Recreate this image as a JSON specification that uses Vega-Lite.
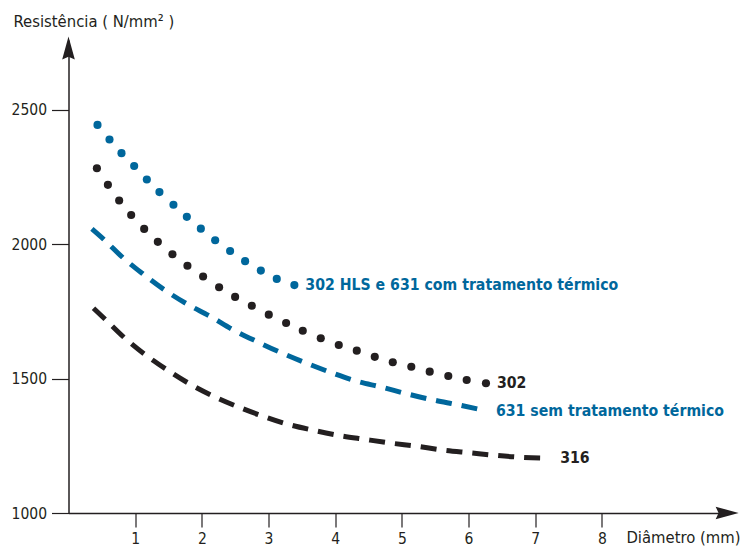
{
  "$schema": "https://vega.github.io/schema/vega-lite/v6.json",
  "width": 660,
  "height": 473,
  "autosize": {"type": "none"},
  "padding": {"left": 68.5, "top": 40, "right": 14.5, "bottom": 33},
  "config": {
    "view": {"stroke": null},
    "font": "DejaVu Sans Condensed",
    "axis": {
      "grid": false,
      "domainColor": "#231f20",
      "domainWidth": 1.5,
      "tickColor": "#231f20",
      "tickWidth": 1.2,
      "labelColor": "#231f20",
      "titleColor": "#231f20",
      "labelFont": "DejaVu Sans Condensed",
      "titleFont": "DejaVu Sans Condensed",
      "labelFontSize": 15.5,
      "titleFontSize": 16.5,
      "titleFontWeight": "normal"
    }
  },
  "datasets": {
    "dots": [
      {"series": "302 HLS e 631 com tratamento térmico", "x": 0.435, "y": 2444},
      {"series": "302 HLS e 631 com tratamento térmico", "x": 0.615, "y": 2390},
      {"series": "302 HLS e 631 com tratamento térmico", "x": 0.795, "y": 2339},
      {"series": "302 HLS e 631 com tratamento térmico", "x": 0.985, "y": 2291},
      {"series": "302 HLS e 631 com tratamento térmico", "x": 1.175, "y": 2241},
      {"series": "302 HLS e 631 com tratamento térmico", "x": 1.364, "y": 2194},
      {"series": "302 HLS e 631 com tratamento térmico", "x": 1.574, "y": 2147},
      {"series": "302 HLS e 631 com tratamento térmico", "x": 1.775, "y": 2102},
      {"series": "302 HLS e 631 com tratamento térmico", "x": 1.985, "y": 2058},
      {"series": "302 HLS e 631 com tratamento térmico", "x": 2.2, "y": 2015},
      {"series": "302 HLS e 631 com tratamento térmico", "x": 2.424, "y": 1975},
      {"series": "302 HLS e 631 com tratamento térmico", "x": 2.649, "y": 1937},
      {"series": "302 HLS e 631 com tratamento térmico", "x": 2.885, "y": 1902},
      {"series": "302 HLS e 631 com tratamento térmico", "x": 3.124, "y": 1871},
      {"series": "302 HLS e 631 com tratamento térmico", "x": 3.388, "y": 1848},
      {"series": "302", "x": 0.426, "y": 2283},
      {"series": "302", "x": 0.591, "y": 2221},
      {"series": "302", "x": 0.76, "y": 2163},
      {"series": "302", "x": 0.94, "y": 2109},
      {"series": "302", "x": 1.135, "y": 2057},
      {"series": "302", "x": 1.34, "y": 2009},
      {"series": "302", "x": 1.559, "y": 1963},
      {"series": "302", "x": 1.784, "y": 1920},
      {"series": "302", "x": 2.019, "y": 1880},
      {"series": "302", "x": 2.259, "y": 1840},
      {"series": "302", "x": 2.499, "y": 1804},
      {"series": "302", "x": 2.75, "y": 1771},
      {"series": "302", "x": 3.004, "y": 1738},
      {"series": "302", "x": 3.264, "y": 1707},
      {"series": "302", "x": 3.514, "y": 1678},
      {"series": "302", "x": 3.784, "y": 1650},
      {"series": "302", "x": 4.054, "y": 1625},
      {"series": "302", "x": 4.324, "y": 1604},
      {"series": "302", "x": 4.594, "y": 1581},
      {"series": "302", "x": 4.864, "y": 1561},
      {"series": "302", "x": 5.142, "y": 1544},
      {"series": "302", "x": 5.418, "y": 1526},
      {"series": "302", "x": 5.697, "y": 1510},
      {"series": "302", "x": 5.973, "y": 1495},
      {"series": "302", "x": 6.262, "y": 1483}
    ],
    "dashes": [
      {"series": "631 sem tratamento térmico", "x": 0.351, "y": 2057},
      {"series": "631 sem tratamento térmico", "x": 0.525, "y": 2019},
      {"series": "631 sem tratamento térmico", "x": 0.816, "y": 1950},
      {"series": "631 sem tratamento térmico", "x": 1.115, "y": 1890},
      {"series": "631 sem tratamento térmico", "x": 1.435, "y": 1831},
      {"series": "631 sem tratamento térmico", "x": 1.775, "y": 1778},
      {"series": "631 sem tratamento térmico", "x": 2.124, "y": 1732},
      {"series": "631 sem tratamento térmico", "x": 2.474, "y": 1681},
      {"series": "631 sem tratamento térmico", "x": 2.825, "y": 1638},
      {"series": "631 sem tratamento térmico", "x": 3.184, "y": 1597},
      {"series": "631 sem tratamento térmico", "x": 3.564, "y": 1558},
      {"series": "631 sem tratamento térmico", "x": 3.934, "y": 1523},
      {"series": "631 sem tratamento térmico", "x": 4.313, "y": 1491},
      {"series": "631 sem tratamento térmico", "x": 4.699, "y": 1468},
      {"series": "631 sem tratamento térmico", "x": 5.082, "y": 1443},
      {"series": "631 sem tratamento térmico", "x": 5.463, "y": 1421},
      {"series": "631 sem tratamento térmico", "x": 5.853, "y": 1402},
      {"series": "631 sem tratamento térmico", "x": 6.247, "y": 1381},
      {"series": "316", "x": 0.375, "y": 1762},
      {"series": "316", "x": 0.55, "y": 1721},
      {"series": "316", "x": 0.835, "y": 1653},
      {"series": "316", "x": 1.135, "y": 1592},
      {"series": "316", "x": 1.465, "y": 1535},
      {"series": "316", "x": 1.799, "y": 1483},
      {"series": "316", "x": 2.154, "y": 1437},
      {"series": "316", "x": 2.514, "y": 1398},
      {"series": "316", "x": 2.885, "y": 1363},
      {"series": "316", "x": 3.264, "y": 1332},
      {"series": "316", "x": 3.649, "y": 1309},
      {"series": "316", "x": 4.048, "y": 1289},
      {"series": "316", "x": 4.448, "y": 1274},
      {"series": "316", "x": 4.838, "y": 1260},
      {"series": "316", "x": 5.232, "y": 1248},
      {"series": "316", "x": 5.622, "y": 1234},
      {"series": "316", "x": 6.022, "y": 1224},
      {"series": "316", "x": 6.423, "y": 1214},
      {"series": "316", "x": 6.813, "y": 1207},
      {"series": "316", "x": 7.211, "y": 1204}
    ],
    "arrows": [
      {"axis": "y", "x": 0, "y": 2730},
      {"axis": "x", "x": 9.88, "y": 1000}
    ]
  },
  "encoding": {
    "x": {
      "field": "x",
      "type": "quantitative",
      "scale": {"domain": [0, 9.9], "nice": false, "zero": false},
      "axis": {
        "values": [1, 2, 3, 4, 5, 6, 7, 8],
        "tickSize": 14,
        "labelPadding": 4,
        "title": "Diâmetro (mm)",
        "titleAlign": "right",
        "titleBaseline": "middle",
        "titleX": 671.5,
        "titleY": 24
      }
    },
    "y": {
      "field": "y",
      "type": "quantitative",
      "scale": {"domain": [1000, 2760], "nice": false, "zero": false},
      "axis": {
        "values": [1000, 1500, 2000, 2500],
        "format": "d",
        "tickSize": 17,
        "labelPadding": 5,
        "title": "Resistência ( N/mm² )",
        "titleAngle": 0,
        "titleAlign": "left",
        "titleBaseline": "middle",
        "titleX": -55.5,
        "titleY": -18.5
      }
    }
  },
  "layer": [
    {
      "data": {"name": "dashes"},
      "mark": {"type": "line", "strokeDash": [16, 10], "strokeWidth": 5, "strokeCap": "butt", "interpolate": "monotone"},
      "encoding": {
        "color": {
          "field": "series",
          "type": "nominal",
          "scale": {
            "domain": ["302 HLS e 631 com tratamento térmico", "302", "631 sem tratamento térmico", "316"],
            "range": ["#00679c", "#231f20", "#00679c", "#231f20"]
          },
          "legend": null
        }
      }
    },
    {
      "data": {"name": "dots"},
      "mark": {"type": "point", "shape": "circle", "filled": true, "opacity": 1, "size": 66},
      "encoding": {
        "color": {"field": "series", "type": "nominal", "legend": null}
      }
    },
    {
      "data": {"name": "dots"},
      "transform": [
        {"joinaggregate": [{"op": "max", "field": "x", "as": "xmax"}], "groupby": ["series"]},
        {"filter": "datum.x == datum.xmax"}
      ],
      "mark": {"type": "text", "align": "left", "baseline": "middle", "dx": 11, "fontSize": 15.7, "fontWeight": "bold", "font": "DejaVu Sans Condensed"},
      "encoding": {
        "text": {"field": "series"},
        "color": {"field": "series", "type": "nominal", "legend": null}
      }
    },
    {
      "data": {"name": "dashes"},
      "transform": [
        {"joinaggregate": [{"op": "max", "field": "x", "as": "xmax"}], "groupby": ["series"]},
        {"filter": "datum.x == datum.xmax"}
      ],
      "mark": {"type": "text", "align": "left", "baseline": "middle", "dx": 11, "fontSize": 15.7, "fontWeight": "bold", "font": "DejaVu Sans Condensed"},
      "encoding": {
        "text": {"field": "series"},
        "color": {"field": "series", "type": "nominal", "legend": null}
      }
    },
    {
      "data": {"name": "arrows"},
      "mark": {"type": "point", "filled": true, "opacity": 1, "color": "#231f20", "size": 529},
      "encoding": {
        "shape": {
          "field": "axis",
          "type": "nominal",
          "scale": {
            "domain": ["x", "y"],
            "range": ["M1,0L-1,0.55L-0.75,0L-1,-0.55Z", "M0,-1L0.55,1L0,0.75L-0.55,1Z"]
          },
          "legend": null
        }
      }
    }
  ]
}
